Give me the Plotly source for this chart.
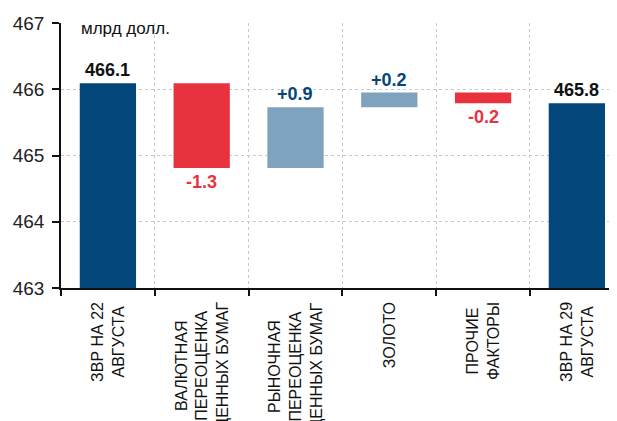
import plotly.graph_objects as go

# ---- data ----
categories = [
    "ЗВР НА 22<br>АВГУСТА",
    "ВАЛЮТНАЯ<br>ПЕРЕОЦЕНКА<br>ЦЕННЫХ БУМАГ",
    "РЫНОЧНАЯ<br>ПЕРЕОЦЕНКА<br>ЦЕННЫХ БУМАГ",
    "ЗОЛОТО",
    "ПРОЧИЕ<br>ФАКТОРЫ",
    "ЗВР НА 29<br>АВГУСТА",
]
start_value = 466.09
changes = [-1.28, 0.92, 0.22, -0.16]
end_value = 465.79
y_ticks = [463, 464, 465, 466, 467]
unit_label = "млрд долл."

# ---- styles ----
FONT = "Liberation Sans, Arial, sans-serif"
DARK = "#02467A"
RED = "#E8333F"
LIGHT = "#7FA3BE"
AXIS_MIN = 463

# build waterfall segments
bases, heights, colors, tops, label_txt, label_col, label_above = [], [], [], [], [], [], []
bases.append(AXIS_MIN); heights.append(start_value - AXIS_MIN); colors.append(DARK)
label_txt.append(f"{start_value:.1f}"); label_col.append("#111111"); label_above.append(True)
tops.append(start_value)
level = start_value
for c in changes:
    bases.append(level); heights.append(c)
    colors.append(LIGHT if c > 0 else RED)
    label_txt.append(f"{c:+.1f}")
    label_col.append(DARK if c > 0 else RED)
    label_above.append(c > 0)
    level += c
    tops.append(level)
bases.append(AXIS_MIN); heights.append(end_value - AXIS_MIN); colors.append(DARK)
label_txt.append(f"{end_value:.1f}"); label_col.append("#111111"); label_above.append(True)
tops.append(end_value)

xs = list(range(len(categories)))

fig = go.Figure()
fig.add_trace(go.Bar(
    x=xs, y=heights, base=bases, width=0.6,
    marker=dict(color=colors, line=dict(width=0)),
    hoverinfo="skip",
))

annotations = []
for i in xs:
    if label_above[i]:
        annotations.append(dict(x=i, y=tops[i], xref="x", yref="y", text=f"<b>{label_txt[i]}</b>",
                                showarrow=False, yanchor="bottom", yshift=1,
                                font=dict(family=FONT, size=18, color=label_col[i])))
    else:
        annotations.append(dict(x=i, y=tops[i], xref="x", yref="y", text=f"<b>{label_txt[i]}</b>",
                                showarrow=False, yanchor="top", yshift=-2,
                                font=dict(family=FONT, size=18, color=label_col[i])))
    annotations.append(dict(x=i, y=0, xref="x", yref="paper", text=categories[i],
                            showarrow=False, textangle=-90, align="center",
                            yanchor="top", xanchor="center", yshift=-12,
                            font=dict(family=FONT, size=16, color="#111111")))

annotations.append(dict(x=0.032, y=1, xref="paper", yref="paper", text=unit_label,
                        showarrow=False, xanchor="left", yanchor="middle", yshift=-5,
                        font=dict(family=FONT, size=17, color="#111111")))

# the page body adds an 8px offset; margins are set to compensate
fig.update_layout(
    width=617, height=421,
    margin=dict(l=53, r=0, t=15, b=141, autoexpand=False),
    paper_bgcolor="white", plot_bgcolor="white",
    showlegend=False,
    annotations=annotations,
    font=dict(family=FONT, size=18, color="#111111"),
    xaxis=dict(
        range=[-0.5, 5.513],
        tickvals=[i - 0.5 for i in range(len(categories) + 1)],
        ticktext=["" for _ in range(len(categories) + 1)],
        showgrid=True, gridcolor="#C8C8C8", griddash="dot", gridwidth=1,
        showline=True, linecolor="#111111", linewidth=1.5,
        ticks="outside", ticklen=6, tickcolor="#111111", tickwidth=1.5,
        zeroline=False, fixedrange=True, automargin=False,
    ),
    yaxis=dict(
        range=[463, 467],
        tickvals=y_ticks,
        ticktext=[str(v) for v in y_ticks],
        showgrid=True, gridcolor="#C8C8C8", griddash="dot", gridwidth=1,
        showline=True, linecolor="#111111", linewidth=1.5,
        ticks="outside", ticklen=7, tickcolor="#111111", tickwidth=1.5,
        ticklabelstandoff=4,
        tickfont=dict(family=FONT, size=19, color="#222222"),
        zeroline=False, fixedrange=True, automargin=False,
    ),
)

fig.write_html("out.html")
